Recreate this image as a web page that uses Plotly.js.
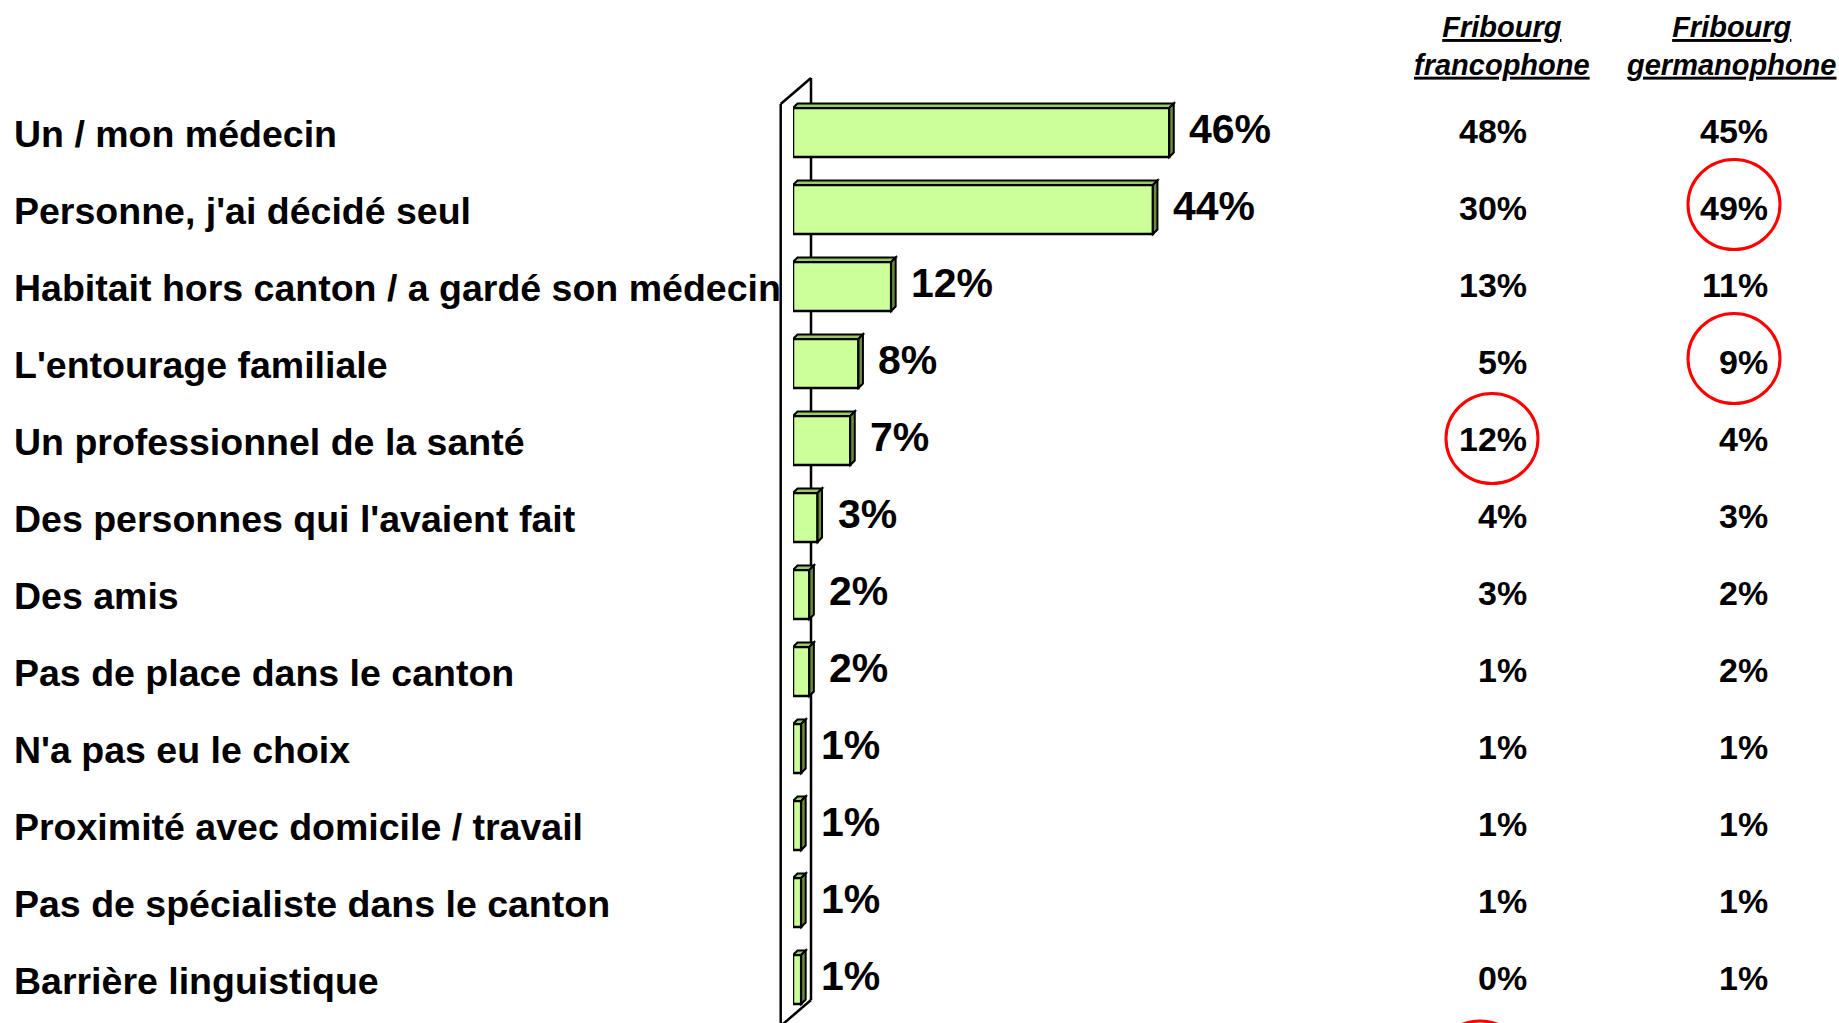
<!DOCTYPE html>
<html>
<head>
<meta charset="utf-8">
<script src="https://cdn.plot.ly/plotly-3.0.1.min.js"></script>
<style>
  html, body { margin: 0; padding: 0; background: #fff; }
  #chart { width: 1839px; height: 1023px; }
</style>
</head>
<body>
<div id="chart"></div>
<script>
// ---------------- data ----------------
const categories = [
  "Un / mon médecin",
  "Personne, j'ai décidé seul",
  "Habitait hors canton / a gardé son médecin",
  "L'entourage familiale",
  "Un professionnel de la santé",
  "Des personnes qui l'avaient fait",
  "Des amis",
  "Pas de place dans le canton",
  "N'a pas eu le choix",
  "Proximité avec domicile / travail",
  "Pas de spécialiste dans le canton",
  "Barrière linguistique"
];
const totalValues        = [46, 44, 12, 8, 7, 3, 2, 2, 1, 1, 1, 1];
const francophoneValues  = [48, 30, 13, 5, 12, 4, 3, 1, 1, 1, 1, 0];
const germanophoneValues = [45, 49, 11, 9, 4, 3, 2, 2, 1, 1, 1, 1];
const columnHeaders = ["Fribourg<br>francophone", "Fribourg<br>germanophone"];
// highlighted cells: [column (0 = francophone, 1 = germanophone), row]
const highlightedCells = [[1, 1], [1, 3], [0, 4]];

// ---------------- geometry ----------------
const W = 1839, H = 1023;
const ML = 793, MR = 0, MT = 94, MB = 5;
const PW = W - ML - MR, PH = H - MT - MB;
const PX_PER_PCT = 8.18;
const ROW = PH / categories.length;
const px2px = px => (px - ML) / PW;      // page x -> paper x
const py2py = py => 1 - (py - MT) / PH;  // page y -> paper y

const FONT = "Liberation Sans, Arial, Helvetica, sans-serif";
const idx = categories.map((_, i) => i);

const barHalf = 0.318;
const dx = 4.5 / PX_PER_PCT;
const dy = 4.5 / ROW;

const shapes = [];
// 3D wall (left side)
const wallLine = {color: '#000', width: 2.5};
[[780.7, 104, 780.7, 1030], [811, 78, 811, 1000], [780.7, 104, 811, 78], [811, 1000, 780.7, 1026]]
  .forEach(([x0, y0, x1, y1]) => shapes.push({
    type: 'line', xref: 'paper', yref: 'paper', layer: 'below',
    x0: px2px(x0), y0: py2py(y0), x1: px2px(x1), y1: py2py(y1), line: wallLine
  }));

// 3D faces of bars
totalValues.forEach((v, i) => {
  const yt = i - barHalf, yb = i + barHalf;
  shapes.push({
    type: 'path', xref: 'x', yref: 'y', layer: 'above',
    path: `M0,${yt} L${dx},${yt - dy} L${v + dx},${yt - dy} L${v},${yt} Z`,
    fillcolor: '#99CC66', line: {color: '#000', width: 2}
  });
  shapes.push({
    type: 'path', xref: 'x', yref: 'y', layer: 'above',
    path: `M${v},${yt} L${v + dx},${yt - dy} L${v + dx},${yb - dy} L${v},${yb} Z`,
    fillcolor: '#6B8E3D', line: {color: '#000', width: 2}
  });
});

// red circles around highlighted cells
const colRight = [1528, 1769];
const colCircleX = [1492, 1734];
highlightedCells.forEach(([c, r]) => {
  const cy = MT + (r + 0.5) * ROW - (c === 1 ? 5 : 2);
  const cx = colCircleX[c];
  shapes.push({
    type: 'circle', xref: 'paper', yref: 'paper',
    x0: px2px(cx - 46), x1: px2px(cx + 46), y0: py2py(cy - 45), y1: py2py(cy + 45),
    line: {color: '#FF0000', width: 3}
  });
});
// circle of the next (cut off) row at the bottom edge
shapes.push({
  type: 'circle', xref: 'paper', yref: 'paper',
  x0: px2px(1480 - 46), x1: px2px(1480 + 46), y0: py2py(1066 - 45), y1: py2py(1066 + 45),
  line: {color: '#FF0000', width: 3}
});

const annotations = [];
// category labels
categories.forEach((c, i) => annotations.push({
  text: '<b>' + c + '</b>', xref: 'paper', yref: 'y', x: px2px(13), y: i,
  xanchor: 'left', yanchor: 'middle', yshift: -1, showarrow: false, borderpad: 0,
  font: {family: FONT, size: 37.5, color: '#000'}
}));
// value labels at bar ends
totalValues.forEach((v, i) => annotations.push({
  text: '<b>' + v + '%</b>', xref: 'x', yref: 'y', x: v, y: i,
  xanchor: 'left', yanchor: 'middle', xshift: 19, yshift: 4, showarrow: false, borderpad: 0,
  font: {family: FONT, size: 41, color: '#000'}
}));
// right-hand columns
[francophoneValues, germanophoneValues].forEach((vals, c) => {
  vals.forEach((v, i) => annotations.push({
    text: '<b>' + v + '%</b>', xref: 'paper', yref: 'y', x: px2px(colRight[c]), y: i,
    xanchor: 'right', yanchor: 'middle', yshift: 2, showarrow: false, borderpad: 0,
    font: {family: FONT, size: 34, color: '#000'}
  }));
});
// column headers
const headerCenters = [1502, 1731];
columnHeaders.forEach((h, c) => annotations.push({
  text: '<b><i><u>' + h.replace('<br>', '</u></i></b><br><b><i><u>') + '</u></i></b>',
  xref: 'paper', yref: 'paper', x: px2px(headerCenters[c]), y: py2py(46),
  xanchor: 'center', yanchor: 'middle', align: 'center', showarrow: false, borderpad: 0,
  font: {family: FONT, size: 29, color: '#000'}
}));

const trace = {
  type: 'bar', orientation: 'h', x: totalValues, y: idx, width: 2 * barHalf,
  marker: {color: '#CCFF99', line: {color: '#000', width: 2.5}},
  hoverinfo: 'none', showlegend: false, cliponaxis: false
};

const layout = {
  width: W, height: H,
  margin: {l: ML, r: MR, t: MT, b: MB, pad: 0},
  paper_bgcolor: '#fff', plot_bgcolor: 'rgba(0,0,0,0)',
  showlegend: false,
  xaxis: {range: [0, PW / PX_PER_PCT], visible: false, showgrid: false, zeroline: false, fixedrange: true},
  yaxis: {range: [categories.length - 0.5, -0.5], visible: false, showgrid: false, zeroline: false, fixedrange: true},
  shapes: shapes,
  annotations: annotations
};

Plotly.newPlot('chart', [trace], layout, {displayModeBar: false, staticPlot: true});
</script>
</body>
</html>
